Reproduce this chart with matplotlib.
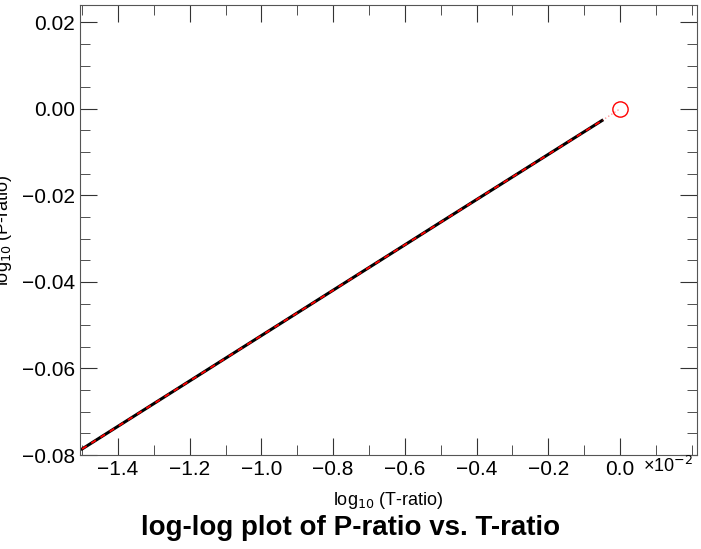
import matplotlib
matplotlib.use("Agg")
import matplotlib.pyplot as plt
from matplotlib.ticker import MultipleLocator, FixedLocator

plt.rcParams["font.family"] = ["Liberation Sans", "DejaVu Sans"]

# log10(T-ratio) in units of 1e-2, and log10(P-ratio)
log_t = [-1.5, -1.0, -0.5, -0.05]
log_p = [-0.0786, -0.0524, -0.0262, -0.0027]
gap_t = [-0.05, 0.0]
gap_p = [-0.0027, 0.0]
ref_t = [0.0]
ref_p = [0.0]
xticks = [-1.4, -1.2, -1.0, -0.8, -0.6, -0.4, -0.2, 0.0]

fig = plt.figure(figsize=(7.01, 5.49), dpi=100)
ax = fig.add_axes([80/701, 1-455/549, 617/701, 450/549])
ax.plot(log_t, log_p, color="black", lw=2.2)
ax.plot(log_t, log_p, color="red", lw=1.3, dashes=(3, 3))
ax.plot(gap_t, gap_p, color="red", lw=1, ls=":", alpha=0.4)
ax.plot(ref_t, ref_p, "o", ms=11, mfc="none", mec="red", mew=1)
ax.set_xlim(-1.506, 0.215)
ax.set_ylim(-0.08, 0.024)
ax.xaxis.set_major_locator(FixedLocator(xticks))
ax.xaxis.set_minor_locator(MultipleLocator(0.1))
ax.yaxis.set_major_locator(MultipleLocator(0.02))
ax.yaxis.set_minor_locator(MultipleLocator(0.005))
ax.xaxis.set_major_formatter(plt.FuncFormatter(lambda v, p: f"{v:.1f}".replace("-", "\u2212")))
ax.yaxis.set_major_formatter(plt.FuncFormatter(lambda v, p: f"{v:.2f}".replace("-", "\u2212")))
ax.tick_params(which="both", direction="in", top=True, right=True, labelsize=15, color="#333")
ax.tick_params(which="major", length=12)
ax.tick_params(which="minor", length=7)
for s in ax.spines.values():
    s.set_color("#555")
ax.set_xlabel("log$_{10}$ (T-ratio)", fontsize=13, labelpad=8)
ax.set_ylabel("log$_{10}$ (P-ratio)", fontsize=13, labelpad=6)
ax.text(0.065, -0.0825, "\u00d710$^{-2}$", fontsize=13, va="center", ha="left")
fig.text(0.5, 0.025, "log-log plot of P-ratio vs. T-ratio", ha="center", fontsize=20, weight="bold")
fig.savefig("out.png", dpi=100)
